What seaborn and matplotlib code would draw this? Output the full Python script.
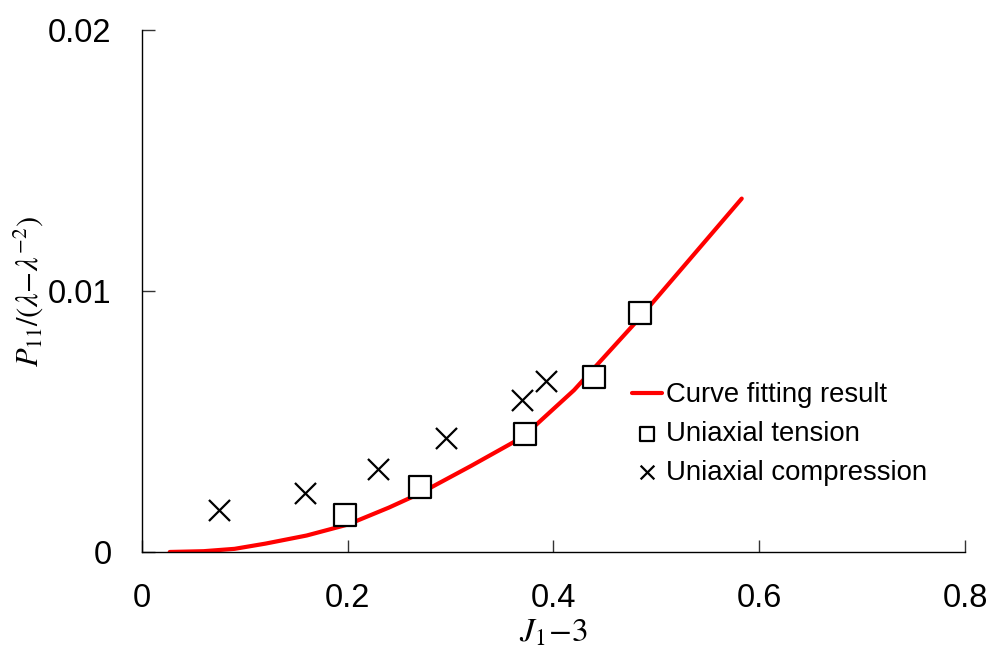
import numpy as np
import pandas as pd
import matplotlib
matplotlib.use("Agg")
import matplotlib.pyplot as plt
import seaborn as sns

# Fitted curve
curve_x = [0.027, 0.06, 0.09, 0.12, 0.16, 0.20, 0.24, 0.27, 0.32, 0.37, 0.42, 0.48, 0.53, 0.583]
curve_y = [0.0, 0.00003, 0.00012, 0.00032, 0.00063, 0.00105, 0.0017, 0.00224, 0.0033, 0.0044, 0.0062, 0.0088, 0.0111, 0.01354]

# Uniaxial tension (squares)
tension_x = [0.197, 0.270, 0.372, 0.439, 0.484]
tension_y = [0.00141, 0.0025, 0.00451, 0.0067, 0.00914]

# Uniaxial compression (crosses)
comp_x = [0.0745, 0.158, 0.229, 0.296, 0.369, 0.393]
comp_y = [0.00161, 0.00227, 0.00316, 0.00435, 0.00581, 0.00655]

x_ticks = [0, 0.2, 0.4, 0.6, 0.8]
x_tick_labels = ["0", "0.2", "0.4", "0.6", "0.8"]
y_ticks = [0, 0.01, 0.02]
y_tick_labels = ["0", "0.01", "0.02"]

sns.set_style("ticks")
plt.rcParams['font.family'] = ['Liberation Sans', 'DejaVu Sans']
plt.rcParams['mathtext.fontset'] = 'stix'

fig = plt.figure(figsize=(9.9, 6.49), dpi=100)
ax = fig.add_axes([0.1434, 0.1495, 0.8313, 0.8043])

sns.lineplot(x=curve_x, y=curve_y, ax=ax, color='#ff0000', lw=3.0,
             label='Curve fitting result', sort=False)
sns.scatterplot(x=tension_x, y=tension_y, ax=ax, marker='s', s=230,
                facecolor='white', edgecolor='black', linewidth=1.6,
                label='Uniaxial tension', zorder=3)
sns.scatterplot(x=comp_x, y=comp_y, ax=ax, marker='x', s=230,
                color='black', linewidth=1.6,
                label='Uniaxial compression', zorder=3)

ax.set_xlim(0, 0.8)
ax.set_ylim(0, 0.02)
ax.set_xticks(x_ticks)
ax.set_xticklabels(x_tick_labels)
ax.set_yticks(y_ticks)
ax.set_yticklabels(y_tick_labels)
ax.tick_params(axis='both', direction='in', length=9, width=1, colors='#333333',
               labelcolor='black', labelsize=23.5, bottom=True, left=True)
ax.tick_params(axis='x', pad=22)
ax.tick_params(axis='y', pad=22)

for side in ['top', 'right']:
    ax.spines[side].set_visible(False)
for side in ['left', 'bottom']:
    ax.spines[side].set_color('black')
    ax.spines[side].set_linewidth(1.0)

ax.set_xlabel(r'$J_1\!-\!3$', fontsize=24, labelpad=3, color='black')
ax.set_ylabel(r'$P_{11}/(\lambda\!-\!\lambda^{-2})$', fontsize=22, labelpad=2, color='black')

leg = ax.legend(loc='upper left', bbox_to_anchor=(0.595, 0.325), frameon=False,
                fontsize=19.8, handlelength=1.1, handletextpad=0.15,
                labelspacing=0.46, borderpad=0, borderaxespad=0, markerscale=0.65)
for t in leg.get_texts():
    t.set_color('black')

fig.savefig('out.png', dpi=100, facecolor='white')
